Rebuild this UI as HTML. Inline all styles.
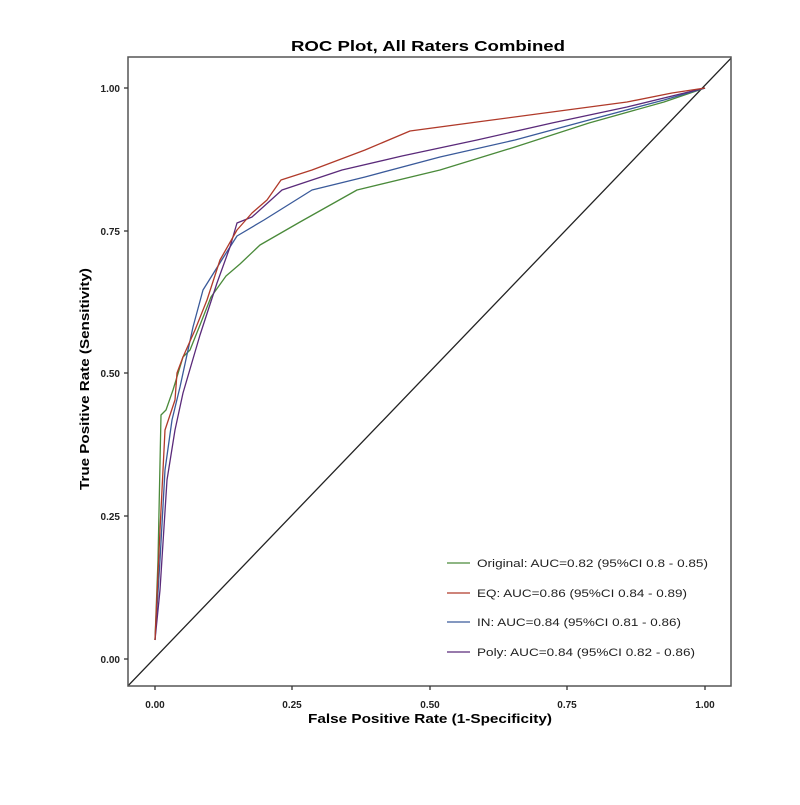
<!DOCTYPE html>
<html><head><style>body{margin:0;background:#fff}</style></head><body>
<svg width="800" height="800" xmlns="http://www.w3.org/2000/svg" font-family="Liberation Sans, sans-serif">
<rect width="800" height="800" fill="#fff"/>
<defs><clipPath id="c"><rect x="128" y="57" width="603" height="629"/></clipPath></defs>
<g clip-path="url(#c)" fill="none" stroke-width="1.3" stroke-linejoin="round">
<line x1="100" y1="715" x2="760" y2="28" stroke="#222"/>
<polyline stroke="#4a8a3a" points="155,640 158,560 161,415 166,410 173,390 183,357 190,350 200,325 211,297 226,276 240,264 260,245 300,222 357,190 440,170 515,147 589,123 664,102 705,88"/>
<polyline stroke="#3a5a9a" points="155,640 160,560 165,470 172,420 180,387 193,327 203,290 223,258 237,236 264,220 312,190 365,177 440,157 515,140 589,120 664,100 705,88"/>
<polyline stroke="#5a2a7a" points="155,640 160,590 167,480 175,430 183,393 200,335 217,283 230,247 237,223 252,217 282,190 342,170 402,156 477,140 552,123 627,107 705,88"/>
<polyline stroke="#b03a2a" points="155,640 160,530 165,430 175,400 177,373 183,357 195,330 207,300 220,260 237,230 252,213 267,200 281,180 312,170 365,150 410,131 477,122 552,112 627,102 672,93 705,88"/>
</g>
<rect x="128" y="57" width="603" height="629" fill="none" stroke="#555" stroke-width="1.5"/>
<g stroke="#333" stroke-width="1.3">
<line x1="124" y1="88" x2="128" y2="88"/><line x1="124" y1="231" x2="128" y2="231"/><line x1="124" y1="373" x2="128" y2="373"/><line x1="124" y1="516" x2="128" y2="516"/><line x1="124" y1="659" x2="128" y2="659"/>
<line x1="155" y1="686" x2="155" y2="690"/><line x1="292" y1="686" x2="292" y2="690"/><line x1="430" y1="686" x2="430" y2="690"/><line x1="567" y1="686" x2="567" y2="690"/><line x1="705" y1="686" x2="705" y2="690"/>
</g>
<g font-size="10" font-weight="bold" fill="#222" text-anchor="end">
<text x="120" y="92">1.00</text><text x="120" y="235">0.75</text><text x="120" y="377">0.50</text><text x="120" y="520">0.25</text><text x="120" y="663">0.00</text>
</g>
<g font-size="10" font-weight="bold" fill="#222" text-anchor="middle">
<text x="155" y="708">0.00</text><text x="292" y="708">0.25</text><text x="430" y="708">0.50</text><text x="567" y="708">0.75</text><text x="705" y="708">1.00</text>
</g>
<text x="291" y="51" font-size="15" font-weight="bold" textLength="274" lengthAdjust="spacingAndGlyphs">ROC Plot, All Raters Combined</text>
<text x="308" y="723" font-size="13" font-weight="bold" textLength="244" lengthAdjust="spacingAndGlyphs">False Positive Rate (1-Specificity)</text>
<text transform="translate(89,490) rotate(-90)" font-size="13" font-weight="bold" textLength="222" lengthAdjust="spacingAndGlyphs">True Positive Rate (Sensitivity)</text>
<g font-size="11" fill="#222" stroke-width="1.3" lengthAdjust="spacingAndGlyphs">
<line x1="447" y1="563" x2="470" y2="563" stroke="#4a8a3a"/><text x="477" y="567" textLength="231" lengthAdjust="spacingAndGlyphs">Original: AUC=0.82 (95%CI 0.8 - 0.85)</text>
<line x1="447" y1="593" x2="470" y2="593" stroke="#b03a2a"/><text x="477" y="597" textLength="210" lengthAdjust="spacingAndGlyphs">EQ: AUC=0.86 (95%CI 0.84 - 0.89)</text>
<line x1="447" y1="622" x2="470" y2="622" stroke="#3a5a9a"/><text x="477" y="626" textLength="204" lengthAdjust="spacingAndGlyphs">IN: AUC=0.84 (95%CI 0.81 - 0.86)</text>
<line x1="447" y1="652" x2="470" y2="652" stroke="#5a2a7a"/><text x="477" y="656" textLength="218" lengthAdjust="spacingAndGlyphs">Poly: AUC=0.84 (95%CI 0.82 - 0.86)</text>
</g>
</svg>
</body></html>
